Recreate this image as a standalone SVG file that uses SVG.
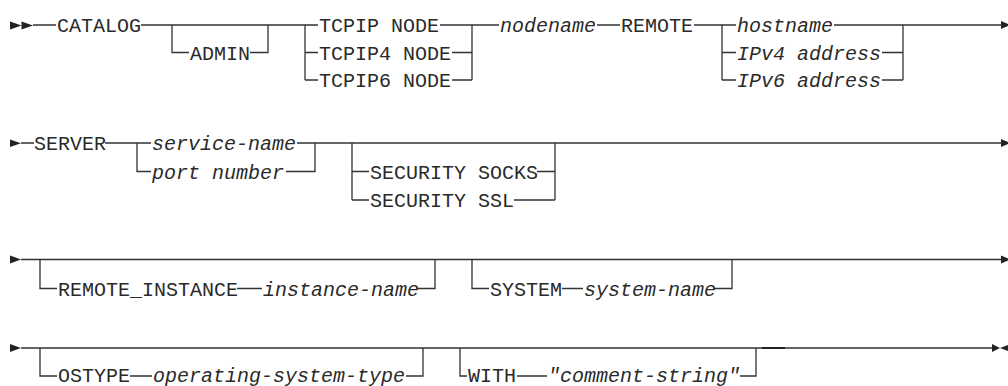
<svg xmlns="http://www.w3.org/2000/svg" width="1008" height="386" viewBox="0 0 1008 386">
<style>
.l{fill:none;stroke:#333;stroke-width:1.3}
.a{fill:#222}
text{font-family:"Liberation Mono","DejaVu Sans Mono",monospace;font-size:20px;fill:#2a2a2a}
.i{font-style:italic}
</style>
<rect width="1008" height="386" fill="#fff"/>
<g id="connectors">
<path class="l" d="M33,25H56M141,25H318M172,25V52.5H189M250,52.5H268V25M305,25V80M305,52.5H318M305,80H318M440,25H472M452,52.5H472M452,80H472M472,25V80M472,25H499M597,25H620M694,25H736M722,25V80M722,52.5H736M722,80H736M834,25H1002M882,52.5H903M882,80H903M903,25V80"/>
<path class="l" d="M21,143H34M105,143H151M137,143V171.5H151M297,143H1001M286,171.5H315V143M352,143V200M352,171.5H369M352,200H369M537,171.5H555M514,200H555M555,143V200"/>
<path class="l" d="M21,259.5H1001M40,259.5V288.5H57M237,288.5H262M417,288.5H435V259.5M472,259.5V288.5H489M562,288.5H583M714,288.5H732V259.5"/>
<path class="l" d="M21,348H992M40,348V376H57M130,376H152M406,376H423V348M460,348V376H467M517,376H547M740,376H756V348"/>
<path d="M762,348H785" stroke="#222" stroke-width="2"/>
<polygon class="a" points="10,21.5 21.5,25.5 10,29.5"/>
<polygon class="a" points="21.5,21.5 33,25.5 21.5,29.5"/>
<polygon class="a" points="1001,21 1010,25 1001,29"/>
<polygon class="a" points="10,139.5 21,143.3 10,147"/>
<polygon class="a" points="1001,139 1010,143 1001,147"/>
<polygon class="a" points="10,255.5 21,259.5 10,263.5"/>
<polygon class="a" points="1001,255.5 1010,259.5 1001,263.5"/>
<polygon class="a" points="10,344 21,348 10,352"/>
<polygon class="a" points="992,344 1000,348 992,352"/>
<polygon class="a" points="1008,345 1000,348 1008,351"/>
</g>
<g id="catalog"><text x="57" y="32">CATALOG</text></g>
<g id="admin"><text x="190" y="59.5">ADMIN</text></g>
<g id="tcpip"><text x="319" y="32">TCPIP NODE</text></g>
<g id="tcpip4"><text x="319" y="59.5">TCPIP4 NODE</text></g>
<g id="tcpip6"><text x="319" y="87">TCPIP6 NODE</text></g>
<g id="nodename"><text class="i" x="500" y="32">nodename</text></g>
<g id="remote"><text x="621" y="32">REMOTE</text></g>
<g id="hostname"><text class="i" x="737" y="32">hostname</text></g>
<g id="ipv4"><text class="i" x="737" y="59.5">IPv4 address</text></g>
<g id="ipv6"><text class="i" x="737" y="87">IPv6 address</text></g>
<g id="server"><text x="34" y="150">SERVER</text></g>
<g id="servicename"><text class="i" x="152" y="150">service-name</text></g>
<g id="portnumber"><text class="i" x="152" y="178.5">port number</text></g>
<g id="socks"><text x="370" y="178.5">SECURITY SOCKS</text></g>
<g id="ssl"><text x="370" y="207">SECURITY SSL</text></g>
<g id="remoteinstance"><text x="58" y="295.5">REMOTE_INSTANCE</text></g>
<g id="instancename"><text class="i" x="263" y="295.5">instance-name</text></g>
<g id="system"><text x="490" y="295.5">SYSTEM</text></g>
<g id="systemname"><text class="i" x="584" y="295.5">system-name</text></g>
<g id="ostype"><text x="58" y="382">OSTYPE</text></g>
<g id="ostypename"><text class="i" x="153" y="382">operating-system-type</text></g>
<g id="with"><text x="468" y="382">WITH</text></g>
<g id="comment"><text class="i" x="548" y="382">"comment-string"</text></g>
</svg>
